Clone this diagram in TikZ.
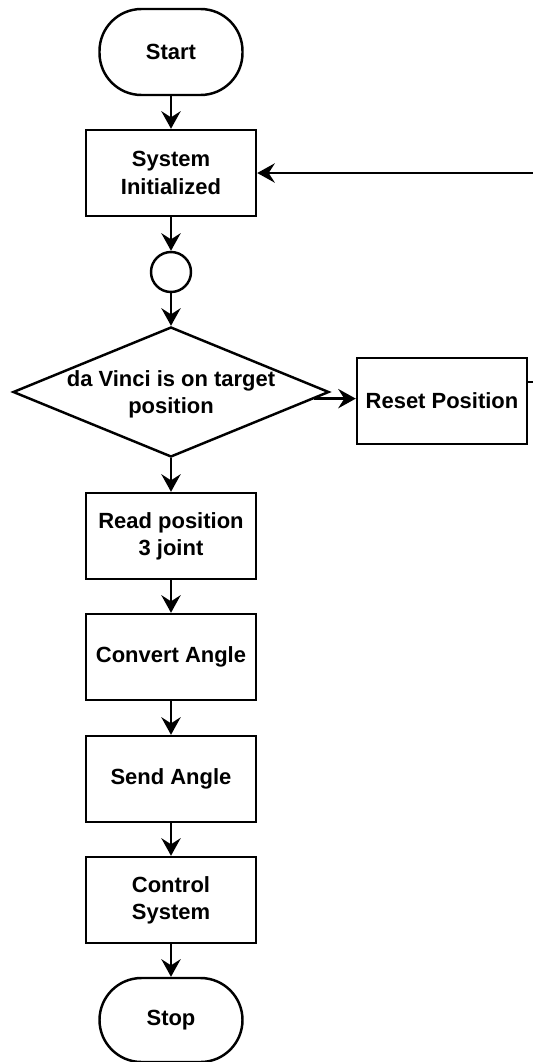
\documentclass[tikz,border=0pt]{standalone}
\usepackage{fontspec}
\setmainfont{Liberation Sans}
\usepackage{tikz}
\usetikzlibrary{arrows.meta,shapes.geometric,calc,positioning}
\begin{document}
\begin{tikzpicture}[
  stepbox/.style={draw,line width=1.4pt,shape=rectangle,minimum width=3.4cm,minimum height=1.72cm,inner sep=0pt,align=center,font=\bfseries\fontsize{12.5}{15.5}\selectfont},
  terminal/.style={stepbox,minimum width=2.86cm,rounded corners=0.84cm},
  junction/.style={draw,line width=1.4pt,shape=circle,minimum size=0.8cm,inner sep=0pt},
  decision/.style={draw,line width=1.4pt,shape=diamond,minimum width=6.32cm,minimum height=2.6cm,inner sep=0pt},
  flow/.style={line width=1.4pt,-{Stealth[length=10pt,width=11pt,inset=3.5pt]}}]
\useasboundingbox (0,0) rectangle (10.66,-21.24);
\node[terminal] (start) at (3.42,-1.04) {Start};
\node[stepbox] (init) at (3.42,-3.46) {System\\Initialized};
\node[junction] (join) at (3.42,-5.44) {};
\node[decision] (decide) at (3.42,-7.84) {};
\node[font=\bfseries\fontsize{12.5}{15.5}\selectfont,align=center] (ask) at (3.42,-7.88) {da Vinci is on target\\position};
\node[stepbox] (reset) at (8.84,-8.02) {Reset Position};
\node[stepbox] (read) at (3.42,-10.72) {Read position\\3 joint};
\node[stepbox] (convert) at (3.42,-13.14) {Convert Angle};
\node[stepbox] (send) at (3.42,-15.58) {Send Angle};
\node[stepbox] (control) at (3.42,-18.0) {Control\\System};
\node[terminal,minimum height=1.68cm] (stop) at (3.42,-20.40) {Stop};
\draw[flow] (start) -- (init);
\draw[flow] (init) -- (join);
\draw[flow] (join) -- (decide);
\draw[flow] (decide) -- (read);
\draw[flow] (read) -- (convert);
\draw[flow] (convert) -- (send);
\draw[flow] (send) -- (control);
\draw[flow] (control) -- (stop);
% no: go reset, then back round to the start
\coordinate (out) at ($(decide.east)!0.1!(decide.south)$);
\draw[flow] (out) -- (out -| reset.west);
\coordinate (back) at ([yshift=0.38cm]reset.east);
\draw[flow] (back) -- ++(0.4,0) |- (init.east);
\end{tikzpicture}
\end{document}
